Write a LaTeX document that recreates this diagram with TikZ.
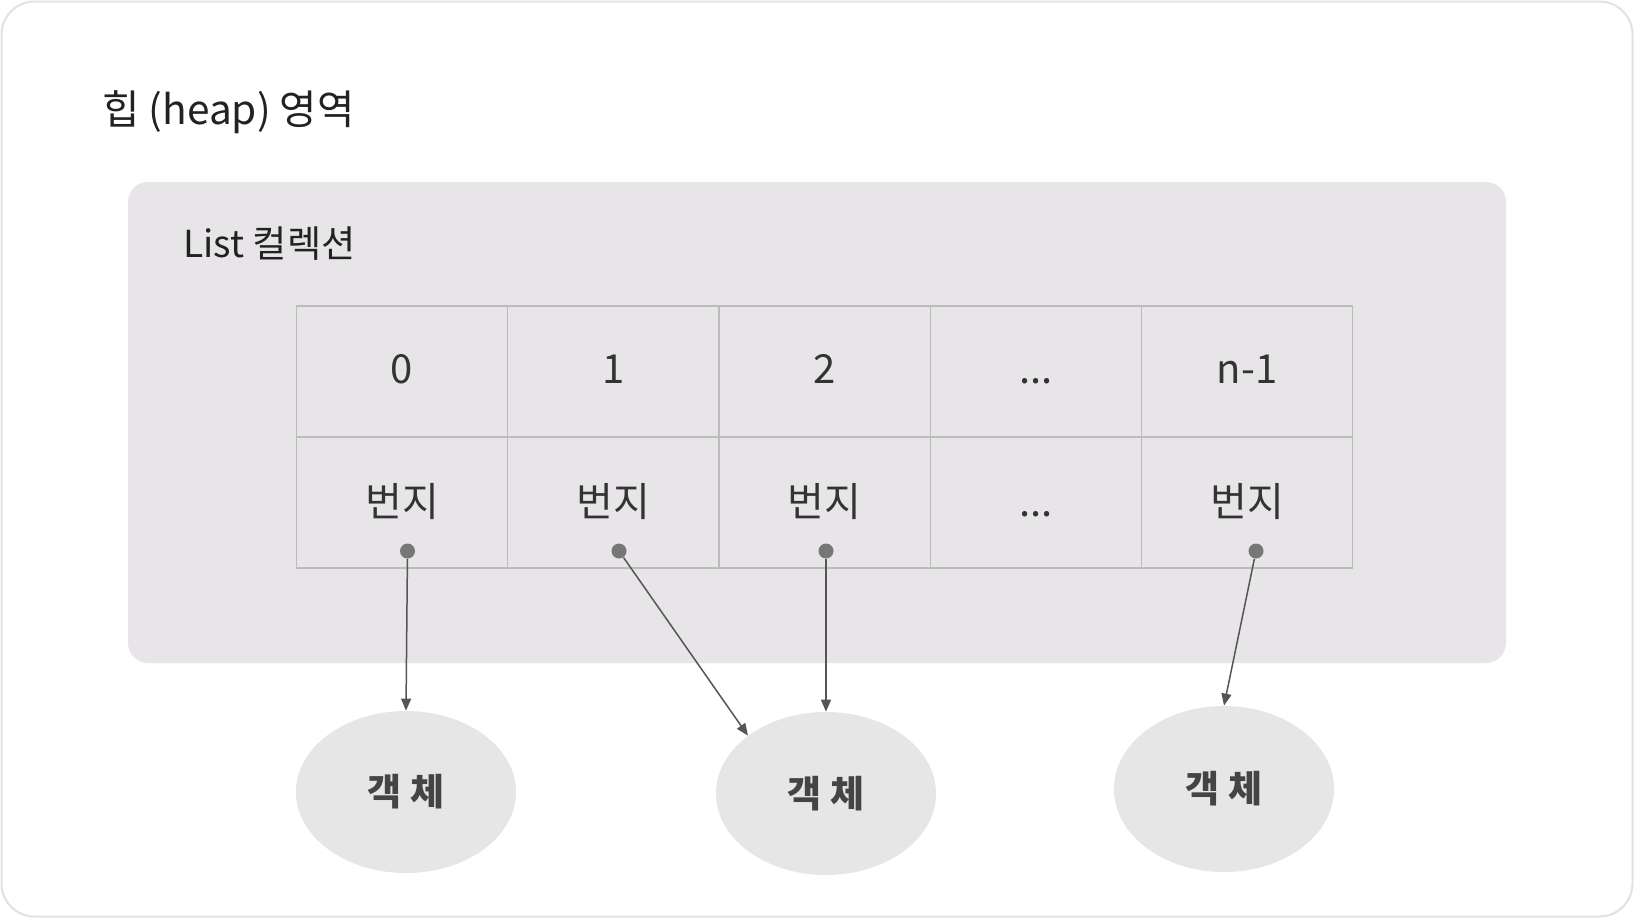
\documentclass[tikz,border=0pt]{standalone}
\usepackage{fontspec}
\setmainfont{Noto Sans CJK KR}
\usetikzlibrary{shapes.geometric,arrows.meta}
\definecolor{framec}{HTML}{E2E2E2}
\definecolor{boxc}{HTML}{E7E5E7}
\definecolor{cellline}{HTML}{BBBBBB}
\definecolor{ellc}{HTML}{E6E6E6}
\definecolor{dotc}{HTML}{777777}
\definecolor{arrc}{HTML}{555555}
\definecolor{txtc}{HTML}{222222}
\definecolor{cellt}{HTML}{333333}
\definecolor{objt}{HTML}{444444}
\begin{document}
\begin{tikzpicture}[x=0.5pt,y=-0.5pt,
  cellbox/.style={rectangle,draw=cellline,line width=0.6pt,minimum width=105.65pt,minimum height=65.5pt,inner sep=0pt,
    font=\fontsize{20}{24}\selectfont,text=cellt,text height=1.27em,text depth=0.08em},
  addrbox/.style={cellbox,text height=1.43em},
  dotnode/.style={circle,fill=dotc,inner sep=0pt,minimum size=7.5pt},
  objnode/.style={ellipse,fill=ellc,inner sep=0pt,font=\fontsize{18.5}{22}\selectfont\bfseries,text=objt},
  ptr/.style={draw=arrc,line width=0.75pt,-{Triangle[length=6pt,width=5pt]}}]
\useasboundingbox (0,0) rectangle (1634,918);
\fill[white] (0,0) rectangle (1634,918);
\draw[framec,line width=1pt,rounded corners=16.5pt] (1.5,1.5) rectangle (1632.5,916.5);
\node[anchor=base west,font=\fontsize{20.3}{24}\selectfont,text=txtc,inner sep=0pt] (title) at (102,124) {힙 (heap) 영역};
\fill[boxc,rounded corners=10pt] (128,182) rectangle (1506,663);
\node[anchor=base west,font=\fontsize{18.6}{22}\selectfont,text=txtc,inner sep=0pt] (list) at (183,257) {List 컬렉션};
% table
\node[cellbox] (i0) at (402,371.5) {0};
\node[cellbox] (i1) at (613.3,371.5) {1};
\node[cellbox] (i2) at (824.6,371.5) {2};
\node[cellbox] (i3) at (1035.9,371.5) {...};
\node[cellbox] (i4) at (1247.2,371.5) {n-1};
\node[addrbox] (a0) at (402,502.5) {번지};
\node[addrbox] (a1) at (613.3,502.5) {번지};
\node[addrbox] (a2) at (824.6,502.5) {번지};
\node[addrbox] (a3) at (1035.9,502.5) {...};
\node[addrbox] (a4) at (1247.2,502.5) {번지};
% dots
\node[dotnode] (d0) at (407.5,551) {};
\node[dotnode] (d1) at (619,551) {};
\node[dotnode] (d2) at (826,551) {};
\node[dotnode] (d4) at (1256,551) {};
% objects
\node[objnode,minimum width=110pt,minimum height=81pt] (e1) at (406,792) {객 체};
\node[objnode,minimum width=110pt,minimum height=81.5pt] (e2) at (826,793.5) {객 체};
\node[objnode,minimum width=110pt,minimum height=83pt] (e3) at (1224,789) {객 체};
% pointers
\draw[ptr] (d0) -- (e1.north);
\draw[ptr] (d1) -- (e2.north west);
\draw[ptr] (d2) -- (e2.north);
\draw[ptr] (d4) -- (e3.north);
\end{tikzpicture}
\end{document}
